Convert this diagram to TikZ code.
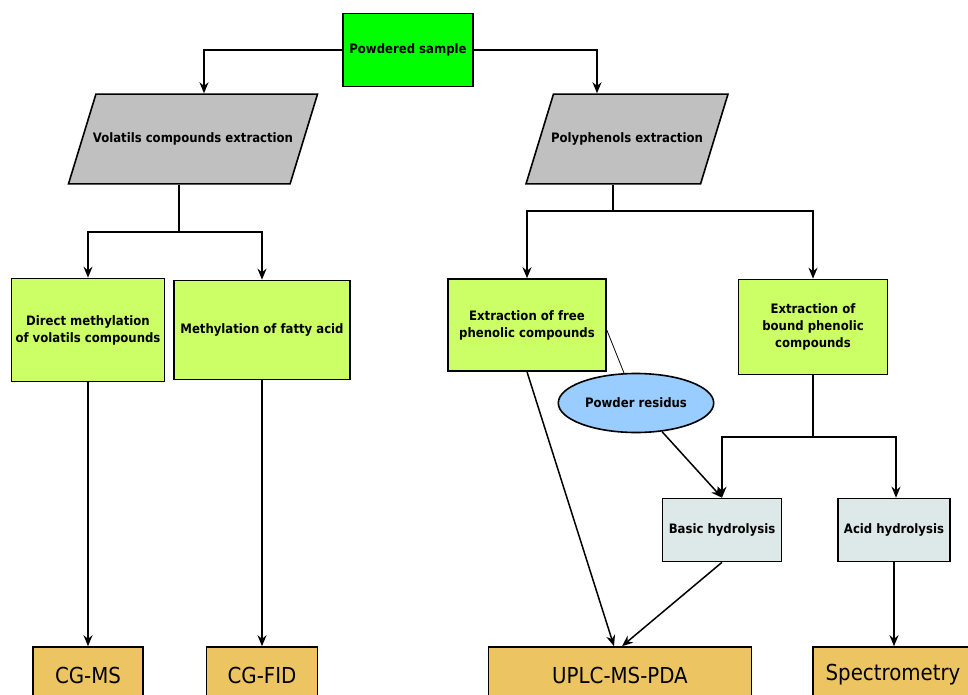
\documentclass[tikz,border=0pt]{standalone}
\usepackage{fontspec}
\setmainfont{DejaVu Sans Condensed}
\usetikzlibrary{shapes.geometric, arrows.meta, calc}
\definecolor{SampleGreen}{RGB}{0,255,0}
\definecolor{ExtGrey}{RGB}{192,192,192}
\definecolor{StepLime}{RGB}{204,255,102}
\definecolor{ResidueBlue}{RGB}{153,204,255}
\definecolor{HydroGrey}{RGB}{221,232,232}
\definecolor{OutGold}{RGB}{236,196,98}
\tikzset{
  box/.style={draw, line width=0.8pt, align=center, inner sep=2pt,
    font=\bfseries\fontsize{6.5}{8.5}\selectfont},
  samplebox/.style={box, fill=SampleGreen, minimum width=65pt, minimum height=36.5pt},
  extbox/.style={box, trapezium, trapezium left angle=73, trapezium right angle=107,
    trapezium stretches body=true, fill=ExtGrey, inner ysep=19.3pt, inner xsep=-1.5pt},
  stepbox/.style={box, fill=StepLime},
  hydrobox/.style={box, fill=HydroGrey, minimum height=31.5pt},
  residuebox/.style={box, ellipse, fill=ResidueBlue, minimum width=61pt, minimum height=29.5pt},
  outbox/.style={draw, line width=0.8pt, fill=OutGold, minimum height=28pt,
    font=\fontsize{11}{13}\selectfont},
  arr/.style={-{Stealth[length=5.5pt,width=4.5pt]}, line width=0.75pt},
}
\begin{document}
\begin{tikzpicture}[x=0.5pt, y=-0.5pt]
  \clip (0,0) rectangle (968,695);
  % top
  \node[samplebox] (sample) at (408,50) {Powdered sample};
  \node[extbox, minimum width=124.5pt] (vol) at (193,139) {Volatils compounds extraction};
  \node[extbox, minimum width=101pt] (poly) at (627,139) {Polyphenols extraction};
  \coordinate (volin) at (204,0);
  \coordinate (polyin) at (597,0);
  \coordinate (volout) at ($(vol.bottom left corner)!.5!(vol.bottom right corner)$);
  \coordinate (polyout) at ($(poly.bottom left corner)!.5!(poly.bottom right corner)$);
  % middle row
  \node[stepbox, minimum width=76pt, minimum height=51.5pt] (direct) at (88,330)
    {Direct methylation\\of volatils compounds};
  \node[stepbox, minimum width=88pt, minimum height=49.5pt] (fatty) at (262,330)
    {Methylation of fatty acid};
  \node[stepbox, minimum width=79pt, minimum height=46pt] (free) at (527,325)
    {Extraction of free\\phenolic compounds};
  \node[stepbox, minimum width=74.5pt, minimum height=47.5pt] (bound) at (813,327)
    {Extraction of\\bound phenolic\\compounds};
  \node[residuebox] (residus) at (636,403) {Powder residus};
  \node[hydrobox, minimum width=59.5pt] (basic) at (722,530) {Basic hydrolysis};
  \node[hydrobox, minimum width=56pt] (acid) at (894,530) {Acid hydrolysis};
  % analyses
  \node[outbox, minimum width=55pt] (cgms) at (88,675) {CG-MS};
  \node[outbox, minimum width=55.5pt] (cgfid) at (262,675) {CG-FID};
  \node[outbox, minimum width=131.5pt] (uplc) at (620,675) {UPLC-MS-PDA};
  \node[outbox, minimum width=80pt] (spectro) at (893,675) {Spectrometry};
  \coordinate (vsplit) at (0,232);
  \coordinate (psplit) at (0,211);
  \coordinate (bsplit) at (0,437);
  % connectors
  \draw[arr] (sample.west) -| (volin |- vol.top left corner);
  \draw[arr] (sample.east) -| (polyin |- poly.top left corner);
  \draw[line width=0.75pt] (volout) -- (volout |- vsplit);
  \draw[arr] (volout |- vsplit) -| (direct.north);
  \draw[arr] (volout |- vsplit) -| (fatty.north);
  \draw[line width=0.75pt] (polyout) -- (polyout |- psplit);
  \draw[arr] (polyout |- psplit) -| (free.north);
  \draw[arr] (polyout |- psplit) -| (bound.north);
  \draw[line width=0.75pt] (bound.south) -- (bound.south |- bsplit);
  \draw[arr] (bound.south |- bsplit) -| (basic.north);
  \draw[arr] (bound.south |- bsplit) -| ([xshift=1pt]acid.north);
  \draw[line width=0.4pt] (residus) -- ($(free.east)+(0,5)$);
  \draw[arr] (residus) -- (basic.north);
  \draw[arr] (direct) -- (cgms);
  \draw[arr] (fatty) -- (cgfid);
  \draw[arr] (free.south) -- ($(uplc.north)+(-6,0)$);
  \draw[arr] (basic.south) -- ($(uplc.north)+(2,0)$);
  \draw[arr] (acid.south) -- (acid.south |- spectro.north);
\end{tikzpicture}
\end{document}
